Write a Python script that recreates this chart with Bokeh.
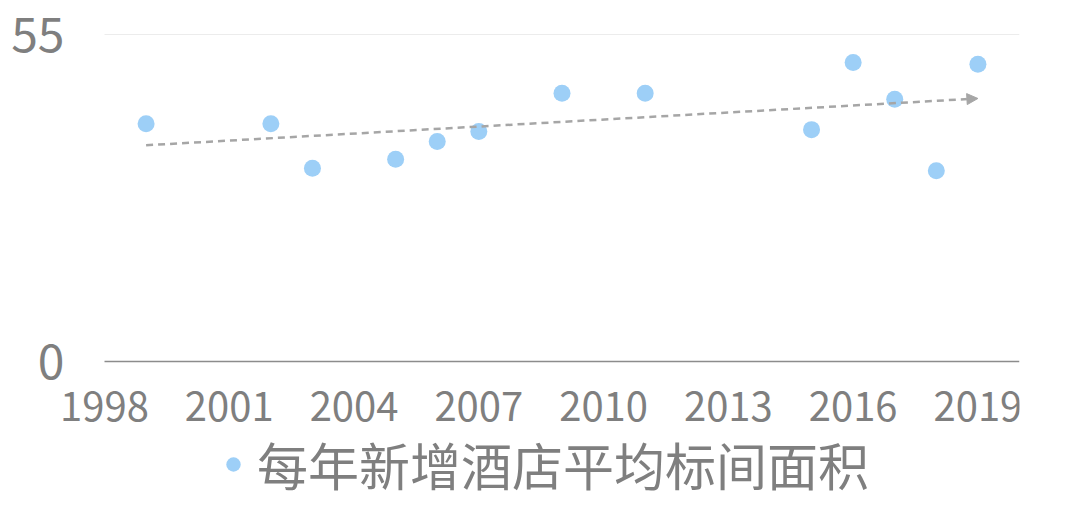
import numpy as np
from bokeh.plotting import figure
from bokeh.models import (ColumnDataSource, FixedTicker, Range1d, Legend, LegendItem,
                          Arrow, NormalHead)
from bokeh.embed import file_html
from bokeh.resources import INLINE

years = [1999, 2002, 2003, 2005, 2006, 2007, 2009, 2011, 2015, 2016, 2017, 2018, 2019]
area = [40.0, 40.0, 32.5, 34.0, 37.0, 38.7, 45.1, 45.1, 39.0, 50.3, 44.1, 32.1, 50.0]
x_ticks = [1998, 2001, 2004, 2007, 2010, 2013, 2016, 2019]
y_ticks = [0, 55]
series_name = "每年新增酒店平均标间面积"

FONT = "Noto Sans CJK SC"
GREY = "#7f7f7f"

# layout constants (pixels)
TOP, ZERO_PX, H = 34, 361, 501          # 55-line, 0-line, canvas height
FRAME_L, AXIS_L, AXIS_R, W = 60, 104, 1019, 1064
X_END = 2020                            # axis runs from first tick to here

ymax = y_ticks[-1]
ymin = -ymax * (H - ZERO_PX) / (ZERO_PX - TOP)
px_per_year = (AXIS_R - AXIS_L) / (X_END - x_ticks[0])
xmin = x_ticks[0] - (AXIS_L - FRAME_L) / px_per_year

p = figure(width=W, height=H, output_backend="svg", toolbar_location=None,
           x_range=Range1d(xmin, X_END), y_range=Range1d(ymin, ymax),
           min_border_left=FRAME_L, min_border_right=W - AXIS_R, min_border_top=TOP,
           min_border_bottom=0)
p.outline_line_color = None
p.background_fill_color = "white"
p.border_fill_color = "white"

# gridline at the top value and axis line at zero, both spanning the category axis
p.segment(x0=[x_ticks[0]], y0=[ymax], x1=[X_END], y1=[ymax], line_color="#d9d9d9", line_width=1)
p.segment(x0=[x_ticks[0]], y0=[0], x1=[X_END], y1=[0], line_color="#8c8c8c", line_width=1.5)

src = ColumnDataSource(dict(x=years, y=area))
pts = p.scatter("x", "y", source=src, size=17, fill_color="#9dcff7", line_color=None)

# linear trendline from the data
k, b = np.polyfit(years, area, 1)
x0, x1 = years[0], years[-1]
p.add_layout(Arrow(x_start=x0, y_start=k * x0 + b, x_end=x1, y_end=k * x1 + b,
                   line_color="#a6a6a6", line_width=2.5, line_dash="7 5",
                   end=NormalHead(size=11, fill_color="#a6a6a6", line_color="#a6a6a6", line_width=1)))

p.xaxis.ticker = FixedTicker(ticks=x_ticks)
p.yaxis.ticker = FixedTicker(ticks=y_ticks)
for ax in (p.xaxis, p.yaxis):
    ax.major_tick_line_color = None
    ax.minor_tick_line_color = None
    ax.axis_line_color = None
    ax.major_label_text_color = GREY
    ax.major_label_text_font = FONT
p.xaxis.fixed_location = 0
p.xaxis.major_label_text_font_size = "40px"
p.yaxis.major_label_text_font_size = "48px"
p.xaxis.major_label_standoff = 24
p.yaxis.major_label_standoff = -10
p.xgrid.grid_line_color = None
p.ygrid.grid_line_color = None

legend = Legend(items=[LegendItem(label=series_name, renderers=[pts])],
                location=(111 + AXIS_L - FRAME_L, 0), orientation="horizontal",
                border_line_color=None, background_fill_alpha=0,
                label_text_font=FONT, label_text_font_size="51px",
                label_text_color=GREY, glyph_width=36, glyph_height=36,
                padding=0, margin=0, label_standoff=6)
p.add_layout(legend, "center")

open("out.html", "w").write(file_html(p, INLINE))
